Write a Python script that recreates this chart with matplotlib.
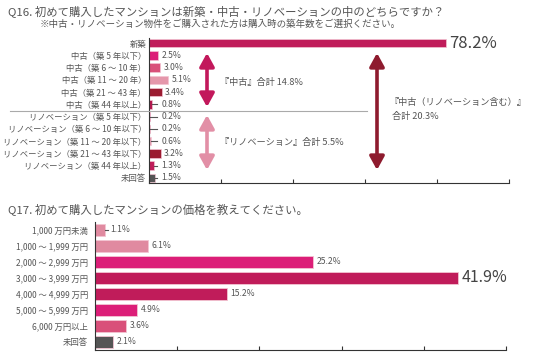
import numpy as np
import matplotlib
matplotlib.use("Agg")
import matplotlib.pyplot as plt
from matplotlib.patches import FancyArrowPatch

plt.rcParams['font.family'] = ['Noto Sans CJK JP', 'DejaVu Sans']

# Q16 data
q16_labels = ['新築', '中古（築 5 年以下）', '中古（築 6 ～ 10 年）', '中古（築 11 ～ 20 年）',
              '中古（築 21 ～ 43 年）', '中古（築 44 年以上）',
              'リノベーション（築 5 年以下）', 'リノベーション（築 6 ～ 10 年以下）',
              'リノベーション（築 11 ～ 20 年以下）', 'リノベーション（築 21 ～ 43 年以下）',
              'リノベーション（築 44 年以上）', '未回答']
q16_values = [78.2, 2.5, 3.0, 5.1, 3.4, 0.8, 0.2, 0.2, 0.6, 3.2, 1.3, 1.5]
q16_colors = ['#c01c5a', '#dc1e78', '#d9507a', '#e597ab', '#9b1b30', '#b5174f',
              '#dc1e78', '#d9507a', '#e8a0b4', '#9b1b30', '#c01c5a', '#555555']

# Q17 data
q17_labels = ['1,000 万円未満', '1,000 ～ 1,999 万円', '2,000 ～ 2,999 万円', '3,000 ～ 3,999 万円',
              '4,000 ～ 4,999 万円', '5,000 ～ 5,999 万円', '6,000 万円以上', '未回答']
q17_values = [1.1, 6.1, 25.2, 41.9, 15.2, 4.9, 3.6, 2.1]
q17_colors = ['#e08aa0', '#e08aa0', '#dc1e78', '#c01c5a', '#c01c5a', '#dc1e78', '#d9507a', '#555555']

W, H = 536, 359
fig = plt.figure(figsize=(W / 100, H / 100), dpi=100)
fig.patch.set_facecolor('white')
txt = '#555555'


def fx(px):
    return px / W


def fy(py):
    return 1 - py / H


def setup(ax, xmax, ylo, yhi, labels, pad):
    ax.set_xlim(0, xmax)
    ax.set_ylim(ylo, yhi)
    for s in ['top', 'right']:
        ax.spines[s].set_visible(False)
    for s in ['left', 'bottom']:
        ax.spines[s].set_color('#333333')
        ax.spines[s].set_linewidth(0.8)
    ax.set_xticks(np.linspace(0, xmax, 6))
    ax.tick_params(axis='x', direction='in', length=3, width=0.8, color='#333333', labelbottom=False)
    ax.set_yticks(range(len(labels)))
    ax.set_yticklabels(labels, fontsize=6, color=txt)
    ax.tick_params(axis='y', length=0, pad=pad)


def value_labels(ax, values, gap, small_x, lead_end, big):
    for i, v in enumerate(values):
        if v == max(values):
            ax.text(v + gap, i, f'{v}%', fontsize=big, color='#444444', va='center', ha='left')
        elif v < 2:
            ax.plot([v, lead_end], [i, i], color='#555555', lw=0.8, clip_on=False)
            ax.text(small_x, i, f'{v}%', fontsize=6.2, color=txt, va='center', ha='left')
        else:
            ax.text(v + gap, i, f'{v}%', fontsize=6.2, color=txt, va='center', ha='left')


# ---- Q16 ----
ax1 = fig.add_axes([fx(149), fy(183), fx(509) - fx(149), fy(38) - fy(183)])
setup(ax1, 94.8, 11.41, -0.41, q16_labels, 2)
ax1.barh(range(len(q16_values)), q16_values, height=0.7, color=q16_colors,
         edgecolor='#f3c4d2', linewidth=0.5)
value_labels(ax1, q16_values, 0.8, 3.2, 2.1, 12)

# separator line between 中古 and リノベーション
fig.add_artist(plt.Line2D([fx(10), fx(367)], [fy(111), fy(111)], color='#aaaaaa', lw=0.8))

fig.text(fx(8), fy(11), 'Q16. 初めて購入したマンションは新築・中古・リノベーションの中のどちらですか？',
         fontsize=8.2, color=txt, va='center', ha='left')
fig.text(fx(40), fy(24), '※中古・リノベーション物件をご購入された方は購入時の築年数をご選択ください。',
         fontsize=6.8, color=txt, va='center', ha='left')


def double_arrow(x, y0, y1, color):
    a = FancyArrowPatch((fx(x), fy(y0)), (fx(x), fy(y1)), transform=fig.transFigure,
                        arrowstyle='<|-|>,head_length=0.4,head_width=0.22', mutation_scale=20,
                        color=color, lw=2.6, shrinkA=0, shrinkB=0)
    fig.add_artist(a)


double_arrow(207, 53, 107, '#c2185b')
double_arrow(207, 115, 170, '#e28fa6')
double_arrow(377, 53, 170, '#8e1b2e')

fig.text(fx(220), fy(82), '『中古』合計 14.8%', fontsize=6.6, color=txt, va='center', ha='left')
fig.text(fx(220), fy(143), '『リノベーション』合計 5.5%', fontsize=6.6, color=txt, va='center', ha='left')
fig.text(fx(390), fy(102), '『中古（リノベーション含む）』', fontsize=6.6, color=txt, va='center', ha='left')
fig.text(fx(392), fy(117), '合計 20.3%', fontsize=6.6, color=txt, va='center', ha='left')

# ---- Q17 ----
ax2 = fig.add_axes([fx(95), fy(350), fx(506) - fx(95), fy(222) - fy(350)])
setup(ax2, 47.44, 7.5, -0.5, q17_labels, 5)
ax2.barh(range(len(q17_values)), q17_values, height=0.75, color=q17_colors,
         edgecolor='#f3c4d2', linewidth=0.6)
value_labels(ax2, q17_values, 0.4, 1.8, 1.5, 11.5)

fig.text(fx(8), fy(209), 'Q17. 初めて購入したマンションの価格を教えてください。',
         fontsize=8.2, color=txt, va='center', ha='left')

fig.savefig('out.png', dpi=100, facecolor='white')
